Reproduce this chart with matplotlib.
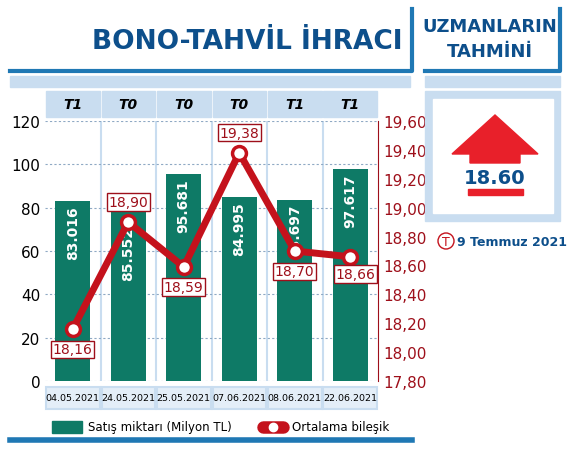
import matplotlib.pyplot as plt
from matplotlib.patches import Rectangle, Polygon
from matplotlib.lines import Line2D

dates = ['04.05.2021', '24.05.2021', '25.05.2021', '07.06.2021', '08.06.2021', '22.06.2021']
terms = ['T1', 'T0', 'T0', 'T0', 'T1', 'T1']
sales = [83.016, 85.552, 95.681, 84.995, 83.697, 97.617]
rates = [18.16, 18.90, 18.59, 19.38, 18.70, 18.66]
left_ticks = [0, 20, 40, 60, 80, 100, 120]
right_ticks = [17.80, 18.00, 18.20, 18.40, 18.60, 18.80, 19.00, 19.20, 19.40, 19.60]
forecast = '18.60'
forecast_date = '9 Temmuz 2021'

GREEN = '#0e7a66'
RED = '#c4121c'
DARKRED = '#9e0f1a'
BLUE = '#0d4f8b'
LINE_BLUE = '#1f78b4'
LIGHT = '#c9ddf0'
PALE = '#e4eef8'

W, H = 569, 452
fig = plt.figure(figsize=(W / 100, H / 100), dpi=100)
fig.patch.set_facecolor('white')


def fx(px):
    return px / W


def fy(py):
    return 1 - py / H


def frect(x0, y0, x1, y1, **kw):
    fig.patches.append(Rectangle((fx(x0), fy(y1)), fx(x1 - x0), (y1 - y0) / H,
                                 transform=fig.transFigure, **kw))


def fline(xs, ys, **kw):
    fig.lines.append(Line2D([fx(x) for x in xs], [fy(y) for y in ys],
                            transform=fig.transFigure, **kw))


# header decorations
fline([10, 412, 412], [72, 72, 10], color=LINE_BLUE, lw=3)
fline([425, 560, 560], [72, 72, 10], color=LINE_BLUE, lw=3)
frect(10, 77, 410, 88, color=LIGHT)
frect(425, 77, 560, 88, color=LIGHT)
fig.text(fx(403), fy(42), 'BONO-TAHVİL İHRACI', ha='right', va='center',
         fontsize=19, color=BLUE, weight='bold')
fig.text(fx(490), fy(27), 'UZMANLARIN', ha='center', va='center', fontsize=13,
         color=BLUE, weight='bold')
fig.text(fx(490), fy(52), 'TAHMİNİ', ha='center', va='center', fontsize=13,
         color=BLUE, weight='bold')
fline([10, 412], [441, 441], color=LINE_BLUE, lw=4)

# forecast panel
frect(425, 92, 560, 222, color=LIGHT)
frect(433, 100, 553, 214, color='white')
arrow = [(495, 116), (538, 155), (520, 155), (520, 164), (470, 164), (470, 155), (452, 155)]
fig.patches.append(Polygon([(fx(x), fy(y)) for x, y in arrow], closed=True,
                           color='#e8202a', transform=fig.transFigure))
fig.text(fx(495), fy(178), forecast, ha='center', va='center', fontsize=14,
         color=BLUE, weight='bold')
frect(468, 190, 523, 196, color='#e8202a')
fig.text(fx(446), fy(242), 'T', ha='center', va='center', fontsize=9, color=RED,
         bbox=dict(boxstyle='circle,pad=0.12', fc='white', ec=RED, lw=1))
fig.text(fx(457), fy(242), forecast_date, ha='left', va='center', fontsize=9,
         color=BLUE, weight='bold')

# chart
ax = fig.add_axes([fx(45), fy(382), fx(378 - 45), (382 - 122) / H])
ax.set_xlim(-0.5, len(dates) - 0.5)
ax.set_ylim(0, 120)
for i in range(len(dates)):
    frect(45 + i * 55.5 + 1, 92, 45 + (i + 1) * 55.5 - 1, 118, color=LIGHT, zorder=0)
    frect(45 + i * 55.5 + 1, 388, 45 + (i + 1) * 55.5 - 1, 410, color=PALE,
          ec=LIGHT, lw=1.5, zorder=0)
    fig.text(fx(45 + (i + 0.5) * 55.5), fy(105), terms[i], ha='center', va='center',
             fontsize=10, weight='bold', style='italic')
    fig.text(fx(45 + (i + 0.5) * 55.5), fy(399), dates[i], ha='center', va='center',
             fontsize=6.8)
for i in range(1, len(dates)):
    ax.axvline(i - 0.5, color=LIGHT, lw=1.5, zorder=0)

ax.bar(range(len(dates)), sales, width=0.63, color=GREEN, zorder=2)
label_gap = [2, 14, 2, 2, 2, 2]
for i, v in enumerate(sales):
    ax.text(i, v - label_gap[i], f'{v:.3f}', rotation=90, ha='center', va='top',
            color='white', fontsize=10, weight='bold', zorder=3)
for t in left_ticks:
    ax.axhline(t, color='#8fa9c4', lw=0.8, ls=(0, (2, 2)), zorder=1)
ax.set_yticks(left_ticks)
ax.set_xticks([])
ax.tick_params(axis='y', length=0, labelsize=11)
for s in ax.spines.values():
    s.set_visible(False)

ax2 = ax.twinx()
ax2.set_ylim(17.80, 19.60)
ax2.set_yticks(right_ticks)
ax2.set_yticklabels([f'{t:.2f}'.replace('.', ',') for t in right_ticks])
ax2.tick_params(axis='y', colors=DARKRED, labelsize=11, length=0)
for s in ['top', 'left', 'bottom']:
    ax2.spines[s].set_visible(False)
ax2.spines['right'].set_color(DARKRED)
ax2.plot(range(len(dates)), rates, color=RED, lw=5, marker='o', ms=10,
         mfc='white', mec=RED, mew=2.5, zorder=4)
offsets = [-0.14, 0.14, -0.14, 0.14, -0.14, -0.12]
for i, v in enumerate(rates):
    ax2.text(i + (0.1 if i == 5 else 0), v + offsets[i], f'{v:.2f}'.replace('.', ','),
             ha='center', va='center', color=DARKRED, fontsize=10, zorder=5,
             bbox=dict(boxstyle='square,pad=0.12', fc='white', ec=DARKRED, lw=1))

# legend
frect(52, 422, 82, 434, color=GREEN)
fig.text(fx(88), fy(428), 'Satış miktarı (Milyon TL)', ha='left', va='center', fontsize=8.5)
fig.lines.append(Line2D([fx(263), fx(283)], [fy(428)] * 2, transform=fig.transFigure,
                        color=RED, lw=9, solid_capstyle='round'))
fig.lines.append(Line2D([fx(273)], [fy(428)], transform=fig.transFigure, marker='o',
                        ms=6, mfc='white', mec='white'))
fig.text(fx(292), fy(428), 'Ortalama bileşik', ha='left', va='center', fontsize=8.5)

fig.savefig('out.png', dpi=100)
